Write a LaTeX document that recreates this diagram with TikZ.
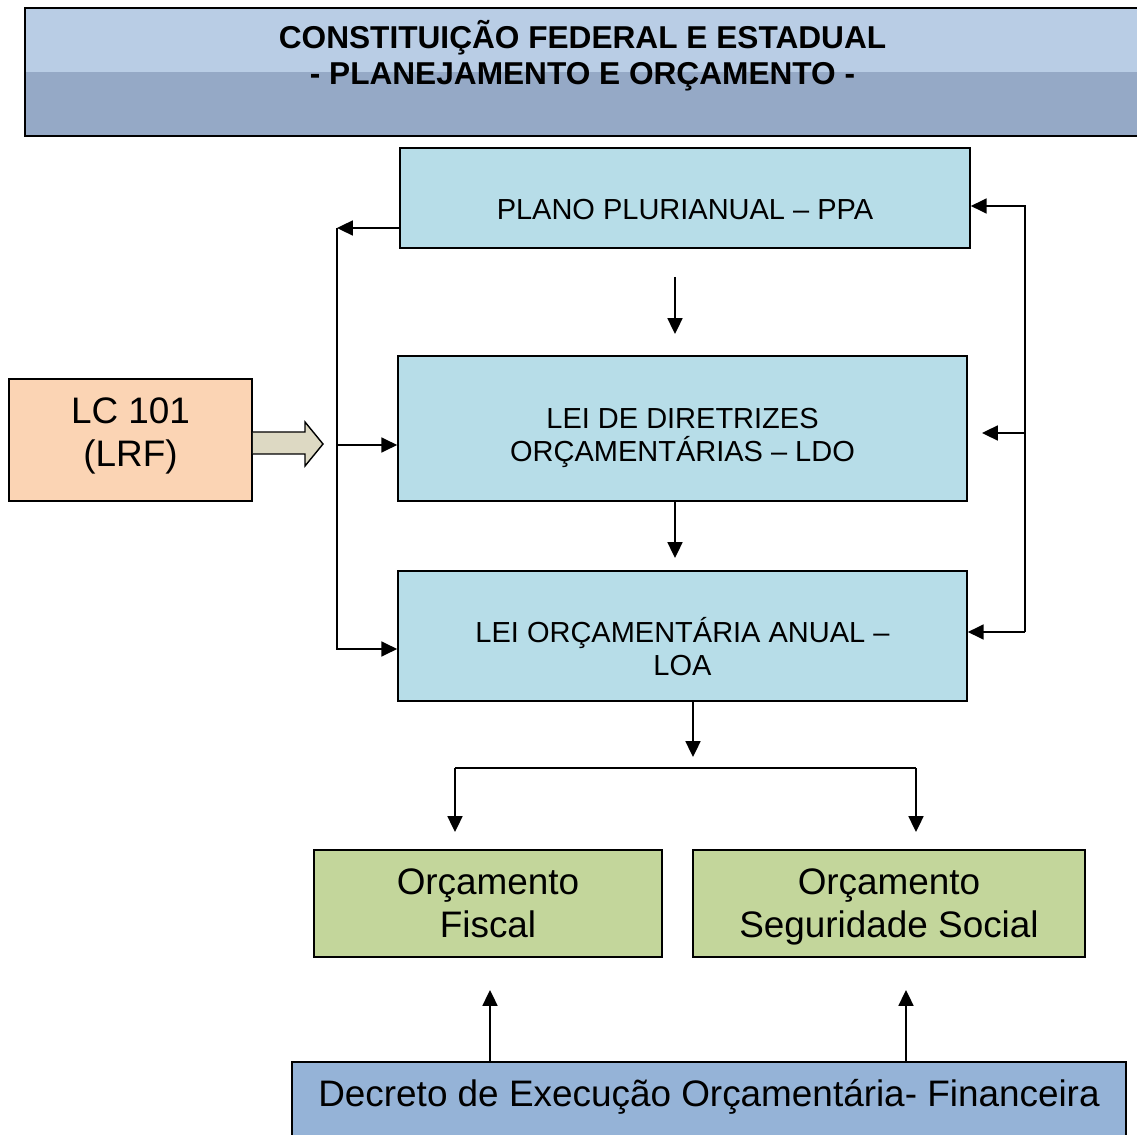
\documentclass[tikz,border=0pt]{standalone}
\usepackage{fontspec}
\setmainfont{Liberation Sans}
\usetikzlibrary{arrows.meta}

\definecolor{titletop}{HTML}{B9CDE5}
\definecolor{titlebot}{HTML}{95A9C6}
\definecolor{lawblue}{HTML}{B7DDE8}
\definecolor{lcorange}{HTML}{FBD4B4}
\definecolor{budgetgreen}{HTML}{C3D69B}
\definecolor{decreeblue}{HTML}{95B3D7}
\definecolor{fatkhaki}{HTML}{DDD9C3}

\tikzset{
    box/.style={draw, line width=1pt, inner sep=0pt, align=center},
    midtext/.style={font=\fontsize{16.5}{19}\selectfont},
    bigtext/.style={font=\fontsize{21}{24.5}\selectfont},
    arr/.style={-{Triangle[length=9pt,width=8.5pt]}, line width=1.1pt},
    wire/.style={line width=1.1pt}
}

\begin{document}
\begin{tikzpicture}[x=0.02cm, y=-0.02cm]
        \useasboundingbox (0,0) rectangle (1137,1135);

        % title band
        \node[box, fill=titlebot, minimum width=22.3cm, minimum height=2.56cm,
              font=\bfseries\fontsize{18}{20.5}\selectfont, text height=18.8pt, text depth=4pt,
              path picture={\fill[titletop] (path picture bounding box.north west)
                  rectangle ([yshift=-1.28cm]path picture bounding box.north east);}]
              (title) at (582.5,72) {CONSTITUIÇÃO FEDERAL E ESTADUAL\\- PLANEJAMENTO E ORÇAMENTO -};

        % laws
        \node[box, midtext, fill=lawblue, minimum width=11.4cm, minimum height=2cm,
              text height=25pt, text depth=0pt] (ppa) at (685,198) {PLANO PLURIANUAL -- PPA};
        \node[box, midtext, fill=lawblue, minimum width=11.38cm, minimum height=2.9cm,
              text height=41pt, text depth=3.5pt] (ldo) at (682.5,428.5) {LEI DE DIRETRIZES\\ORÇAMENTÁRIAS -- LDO};
        \node[box, midtext, fill=lawblue, minimum width=11.38cm, minimum height=2.6cm,
              text height=45pt, text depth=0pt] (loa) at (682.5,636) {LEI ORÇAMENTÁRIA ANUAL --\\LOA};

        \node[box, bigtext, fill=lcorange, minimum width=4.86cm, minimum height=2.44cm,
              text height=35pt, text depth=4.4pt] (lc) at (130.5,440) {LC 101\\(LRF)};

        % budgets
        \node[box, bigtext, fill=budgetgreen, minimum width=6.96cm, minimum height=2.14cm,
              text height=39pt, text depth=0pt] (fiscal) at (488,903.5) {Orçamento\\Fiscal};
        \node[box, bigtext, fill=budgetgreen, minimum width=7.84cm, minimum height=2.14cm,
              text height=39pt, text depth=0pt] (social) at (889,903.5) {Orçamento\\Seguridade Social};

        \node[box, bigtext, fill=decreeblue, minimum width=16.68cm, minimum height=1.76cm,
              text height=15pt, text depth=14.6pt] (decree) at (709,1106) {Decreto de Execução Orçamentária- Financeira};

        % fat arrow from LC 101
        \draw[fill=fatkhaki, line width=0.8pt] (lc.east |- 0,432) -- (305,432) -- (305,422) -- (323,444)
            -- (305,466) -- (305,454) -- (lc.east |- 0,454);

        % left bus
        \coordinate (lt) at (337,228);
        \coordinate (lm) at (337,445);
        \coordinate (lb) at (337,649);
        \draw[arr] (ppa.west |- lt) -- (lt);
        \draw[arr] (lt) -- (lb) -- (loa.west |- lb);
        \draw[arr] (lm) -- (ldo.west |- lm);

        % right bus
        \coordinate (rt) at (1025,206);
        \coordinate (rm) at (1025,433);
        \coordinate (rb) at (1025,632);
        \coordinate (rmend) at (982,433);
        \draw[arr] (rb) -- (rt) -- (ppa.east |- rt);
        \draw[arr] (rb) -- (loa.east |- rb);
        \draw[arr] (rm) -- (rmend);

        % downward chain
        \coordinate (d0) at (675,277);
        \coordinate (d1) at (675,334);
        \coordinate (d2) at (675,558);
        \coordinate (d3) at (693,757);
        \draw[arr] (d0) -- (d1);
        \draw[arr] (ldo.south -| d2) -- (d2);
        \draw[arr] (loa.south -| d3) -- (d3);

        % split to budgets
        \coordinate (sl) at (455,768);
        \coordinate (sr) at (916,768);
        \coordinate (fl) at (455,832);
        \coordinate (fr) at (916,832);
        \draw[wire] (sl) -- (sr);
        \draw[arr] (sl) -- (fl);
        \draw[arr] (sr) -- (fr);

        % decree up
        \coordinate (ul) at (490,990);
        \coordinate (ur) at (906,990);
        \draw[arr] (decree.north -| ul) -- (ul);
        \draw[arr] (decree.north -| ur) -- (ur);

    \end{tikzpicture}
\end{document}
